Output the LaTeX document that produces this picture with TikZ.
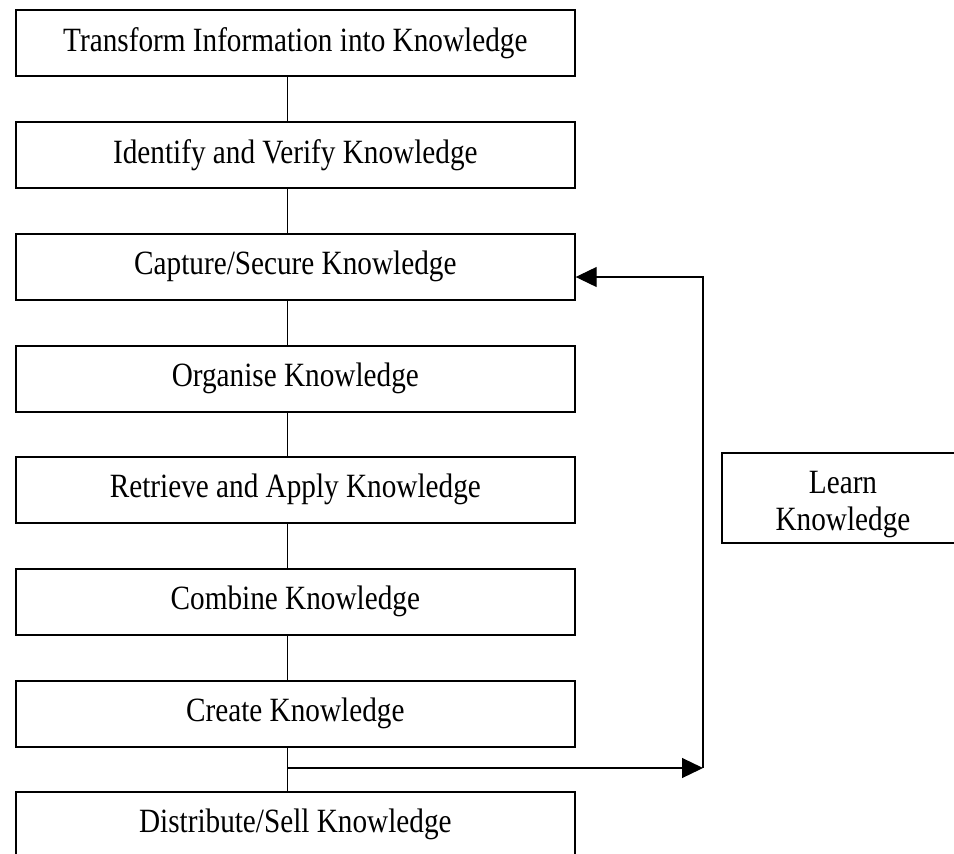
\documentclass[tikz,border=0pt]{standalone}
\usepackage{fontspec}
\setmainfont{Liberation Serif}[FakeStretch=0.86]
\usetikzlibrary{arrows.meta}
\begin{document}
\begin{tikzpicture}[x=1pt,y=-1pt,
  stage/.style={draw, line width=1.7pt, minimum width=559pt, minimum height=66pt,
    inner sep=0pt, font=\fontsize{34}{37}\selectfont, anchor=north west},
  learnbox/.style={draw, line width=1.7pt, minimum width=242pt, minimum height=90pt,
    inner sep=0pt, align=center, font=\fontsize{34}{37}\selectfont},
  link/.style={line width=1.2pt},
  flow/.style={line width=1.2pt, -{Triangle[length=21pt,width=20pt]}}]
\useasboundingbox (0,0) rectangle (954,854);
\clip (0,0) rectangle (954,854);

% the knowledge stages, top to bottom
\node[stage] (s1) at (15,9)   {Transform Information into Knowledge};
\node[stage] (s2) at (15,121) {Identify and Verify Knowledge};
\node[stage] (s3) at (15,233) {Capture/Secure Knowledge};
\node[stage] (s4) at (15,345) {Organise Knowledge};
\node[stage] (s5) at (15,456) {Retrieve and Apply Knowledge};
\node[stage] (s6) at (15,568) {Combine Knowledge};
\node[stage] (s7) at (15,680) {Create Knowledge};
\node[stage] (s8) at (15,791) {Distribute/Sell Knowledge};

% side box (strut keeps the two lines low in the box)
\node[learnbox] (learn) at (843,498) {\rule{0pt}{36pt}Learn\\Knowledge};

% vertical links between consecutive stages
\foreach \a/\b in {s1/s2, s2/s3, s3/s4, s4/s5, s5/s6, s6/s7, s7/s8}
  \draw[link] ([xshift=-7.5pt]\a.south) -- ([xshift=-7.5pt]\b.north);

% feedback loop from creation back to capture
\coordinate (fork) at (287,768);
\coordinate (turn) at (703,768);
\coordinate (top)  at (703,277);
\draw[flow] (fork) -- (turn);
\draw[flow] (turn) -- (top) -- (s3.east |- top);
\end{tikzpicture}
\end{document}
